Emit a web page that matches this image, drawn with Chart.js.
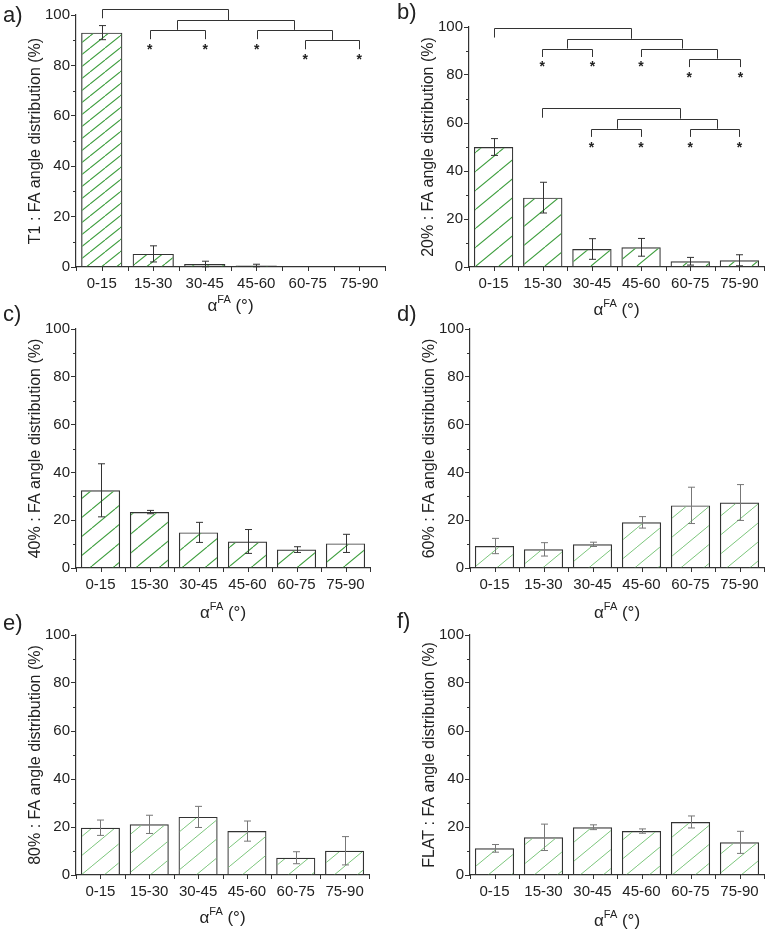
<!DOCTYPE html>
<html lang="en">
<head>
<meta charset="UTF-8">
<title>FA angle distribution</title>
<script src="https://cdn.jsdelivr.net/npm/chart.js"></script>
<style>
  body { margin: 0; background: #fff; }
  #wrap { position: relative; width: 768px; height: 930px; overflow: hidden; }
  #wrap canvas { position: absolute; }
</style>
</head>
<body>
<div id="wrap">
  <canvas id="pa"></canvas>
  <canvas id="pb"></canvas>
  <canvas id="pc"></canvas>
  <canvas id="pd"></canvas>
  <canvas id="pe"></canvas>
  <canvas id="pf"></canvas>
</div>
<script>
// ---- data ----
const categories = ["0-15", "15-30", "30-45", "45-60", "60-75", "75-90"];
const yTicks = [0, 20, 40, 60, 80, 100];
const yMinorTicks = [10, 30, 50, 70, 90];

const t1Values   = [93.0, 5.2, 1.2, 0.6, 0, 0];
const t1Errors   = [2.8, 3.2, 1.1, 0.5, 0, 0];
const p20Values  = [50.0, 28.9, 7.5, 8.2, 2.4, 2.8];
const p20Errors  = [3.5, 6.4, 4.3, 3.7, 1.6, 2.3];
const p40Values  = [32.5, 23.4, 14.9, 11.1, 7.7, 10.3];
const p40Errors  = [11.1, 0.7, 4.2, 5.0, 1.2, 3.8];
const p60Values  = [9.2, 7.8, 9.9, 19.1, 26.2, 27.4];
const p60Errors  = [3.2, 2.8, 0.9, 2.4, 7.6, 7.5];
const p80Values  = [19.7, 21.1, 24.2, 18.3, 7.2, 10.1];
const p80Errors  = [3.2, 3.8, 4.4, 4.2, 2.5, 5.9];
const flatValues = [11.1, 15.7, 19.9, 18.3, 22.1, 13.6];
const flatErrors = [1.6, 5.5, 1.0, 0.9, 2.5, 4.6];

// significance brackets: [fromCategory, toCategory, level, leftEnd, rightEnd] (category index, %)
const t1Brackets = [
  [0, 2.46, 102.2, 98.7, 98.0],
  [1.47, 3.74, 98.0, 94.1, 94.1],
  [0.93, 2.01, 94.1, 90.4, 90.4],
  [3.01, 4.48, 94.1, 90.4, 90.1],
  [3.95, 5.0, 90.1, 86.4, 86.4]
];
const t1Stars = [[0.93, 87.8], [2.01, 87.8], [3.01, 87.8], [3.95, 83.9], [5.0, 83.9]];

const p20Brackets = [
  [0, 2.8, 99.7, 95.6, 95.1],
  [1.49, 3.83, 95.1, 91.0, 91.0],
  [0.99, 2.01, 91.0, 87.5, 87.5],
  [3.0, 4.54, 91.0, 87.5, 86.8],
  [3.98, 5.02, 86.8, 83.3, 83.3],
  [0.99, 3.79, 66.2, 62.2, 61.8],
  [2.5, 4.54, 61.8, 57.6, 57.6],
  [1.99, 3.0, 57.6, 54.2, 54.2],
  [4.0, 5.0, 57.6, 54.2, 54.2]
];
const p20Stars = [[0.99, 85], [2.01, 85], [3.0, 85], [3.98, 80.6], [5.02, 80.6],
                  [1.99, 51.4], [3.0, 51.4], [4.0, 51.4], [5.0, 51.4]];

// ---- panels ----
const FONT = "'Liberation Sans', Arial, sans-serif";
Chart.defaults.font.family = FONT;
Chart.defaults.color = "#222";

const panels = [
  { id: "pa", x: 0,   y: 0,   w: 392, h: 325, left: 76, top: 15, right: 7,  bottom: 58, xGap: 39,
    letter: "a)", letterPos: [3, 16], yTitle: "T1 : FA angle distribution (%)",
    values: t1Values, errors: t1Errors, brackets: t1Brackets, stars: t1Stars,
    hatch: [15, 12, "#3f9f3f", 1.1], errColor: "#333" },
  { id: "pb", x: 384, y: 0,   w: 384, h: 325, left: 85, top: 27, right: 4,  bottom: 58, xGap: 43,
    letter: "b)", letterPos: [13, 13], yTitle: "20% : FA angle distribution (%)",
    values: p20Values, errors: p20Errors, brackets: p20Brackets, stars: p20Stars,
    hatch: [23, 19, "#3f9f3f", 1.1], errColor: "#333" },
  { id: "pc", x: 0,   y: 300, w: 392, h: 325, left: 76, top: 29, right: 22, bottom: 57, xGap: 45,
    letter: "c)", letterPos: [3, 15], yTitle: "40% : FA angle distribution (%)",
    values: p40Values, errors: p40Errors, brackets: [], stars: [],
    hatch: [23, 19, "#3f9f3f", 1.1], errColor: "#333" },
  { id: "pd", x: 384, y: 300, w: 384, h: 325, left: 86, top: 29, right: 4,  bottom: 57, xGap: 45,
    letter: "d)", letterPos: [13, 15], yTitle: "60% : FA angle distribution (%)",
    values: p60Values, errors: p60Errors, brackets: [], stars: [],
    hatch: [23, 19, "#7cc67c", 1], errColor: "#777" },
  { id: "pe", x: 0,   y: 600, w: 392, h: 330, left: 76, top: 35, right: 23, bottom: 55, xGap: 43,
    letter: "e)", letterPos: [3, 24], yTitle: "80% : FA angle distribution (%)",
    values: p80Values, errors: p80Errors, brackets: [], stars: [],
    hatch: [23, 19, "#7cc67c", 1], errColor: "#777" },
  { id: "pf", x: 384, y: 600, w: 384, h: 330, left: 86, top: 35, right: 4,  bottom: 55, xGap: 46,
    letter: "f)", letterPos: [13, 22], yTitle: "FLAT : FA angle distribution (%)",
    values: flatValues, errors: flatErrors, brackets: [], stars: [],
    hatch: [23, 19, "#7cc67c", 1], errColor: "#777" }
];

function makeHatch(ctx, w, h, color, lw) {
  const c = document.createElement("canvas");
  c.width = w; c.height = h;
  const g = c.getContext("2d");
  g.strokeStyle = color;
  g.lineWidth = lw;
  g.beginPath();
  for (const dx of [-w, 0, w]) { g.moveTo(dx, h); g.lineTo(dx + w, 0); }
  g.stroke();
  return ctx.createPattern(c, "repeat");
}

// error bars, minor ticks, brackets and texts
const decor = {
  id: "decor",
  afterDraw(chart) {
    const p = chart.options.plugins.decor;
    const ctx = chart.ctx, xs = chart.scales.x, ys = chart.scales.y, a = chart.chartArea;
    ctx.save();
    ctx.strokeStyle = "#333";
    ctx.lineWidth = 1;
    ctx.beginPath();
    yMinorTicks.forEach(v => {
      const y = Math.round(ys.getPixelForValue(v)) + 0.5;
      ctx.moveTo(a.left - 3, y); ctx.lineTo(a.left, y);
    });
    for (let i = 0; i <= categories.length * 2; i++) {
      const x = Math.round(xs.getPixelForValue(i / 2 - 0.5)) + 0.5;
      ctx.moveTo(x, a.bottom); ctx.lineTo(x, a.bottom + 4);
    }
    ctx.stroke();

    // error bars
    ctx.strokeStyle = p.errColor;
    ctx.beginPath();
    p.values.forEach((v, i) => {
      const e = p.errors[i];
      if (!e) return;
      const x = Math.round(xs.getPixelForValue(i)) + 0.5;
      const t = ys.getPixelForValue(v + e), b = ys.getPixelForValue(v - e);
      ctx.moveTo(x, t); ctx.lineTo(x, b);
      ctx.moveTo(x - 3.5, t); ctx.lineTo(x + 3.5, t);
      ctx.moveTo(x - 3.5, b); ctx.lineTo(x + 3.5, b);
    });
    ctx.stroke();

    // brackets
    ctx.strokeStyle = "#333";
    ctx.beginPath();
    p.brackets.forEach(([x1, x2, lvl, e1, e2]) => {
      const px1 = Math.round(xs.getPixelForValue(x1)) + 0.5;
      const px2 = Math.round(xs.getPixelForValue(x2)) + 0.5;
      const py = Math.round(ys.getPixelForValue(lvl)) + 0.5;
      ctx.moveTo(px1, ys.getPixelForValue(e1));
      ctx.lineTo(px1, py);
      ctx.lineTo(px2, py);
      ctx.lineTo(px2, ys.getPixelForValue(e2));
    });
    ctx.stroke();
    ctx.fillStyle = "#222";
    ctx.font = "bold 14px " + FONT;
    ctx.textAlign = "center";
    ctx.textBaseline = "alphabetic";
    p.stars.forEach(([sx, sy]) => {
      ctx.fillText("*", xs.getPixelForValue(sx), ys.getPixelForValue(sy) + 8);
    });

    // panel letter
    ctx.font = "22px " + FONT;
    ctx.textAlign = "left";
    ctx.textBaseline = "middle";
    ctx.fillText(p.letter, p.letterPos[0], p.letterPos[1]);

    // y title
    ctx.font = "16px " + FONT;
    ctx.save();
    ctx.translate(a.left - 40, (a.top + a.bottom) / 2);
    ctx.rotate(-Math.PI / 2);
    ctx.textAlign = "center";
    ctx.fillText(p.yTitle, 0, 0);
    ctx.restore();

    // x title: alpha^FA (°)
    const big = "17px " + FONT, small = "11px " + FONT;
    ctx.font = big; const wA = ctx.measureText("\u03b1").width;
    const wP = ctx.measureText(" (\u00b0)").width;
    ctx.font = small; const wS = ctx.measureText("FA").width;
    let x = (a.left + a.right) / 2 - (wA + wS + wP) / 2;
    const y = a.bottom + p.xGap;
    ctx.textAlign = "left";
    ctx.font = big; ctx.fillText("\u03b1", x, y); x += wA;
    ctx.font = small; ctx.fillText("FA", x, y - 6); x += wS;
    ctx.font = big; ctx.fillText(" (\u00b0)", x, y);
    ctx.restore();
  }
};

panels.forEach(p => {
  const cv = document.getElementById(p.id);
  cv.width = p.w; cv.height = p.h;
  cv.style.left = p.x + "px"; cv.style.top = p.y + "px";
  const ctx = cv.getContext("2d");
  const pattern = makeHatch(ctx, ...p.hatch);
  new Chart(ctx, {
    type: "bar",
    data: {
      labels: categories,
      datasets: [{
        data: p.values,
        backgroundColor: pattern,
        borderColor: "#333",
        borderWidth: 1.2,
        barPercentage: 0.8,
        categoryPercentage: 1
      }]
    },
    options: {
      responsive: false,
      animation: false,
      layout: { padding: { left: 0, top: p.top, right: p.right, bottom: 0 } },
      plugins: {
        legend: { display: false },
        tooltip: { enabled: false },
        decor: p
      },
      scales: {
        x: {
          grid: { drawOnChartArea: false, color: "rgba(0,0,0,0)", tickLength: 4 },
          border: { color: "#333", width: 1.2 },
          ticks: { font: { size: 15 }, padding: 4, maxRotation: 0, autoSkip: false },
          afterFit: s => { s.height = p.bottom; }
        },
        y: {
          min: 0, max: 100,
          afterBuildTicks: s => { s.ticks = yTicks.map(v => ({ value: v })); },
          grid: { drawOnChartArea: false, color: "#333", tickLength: 5 },
          border: { color: "#333", width: 1.2 },
          ticks: { font: { size: 15 }, padding: 1 },
          afterFit: s => { s.width = p.left; }
        }
      }
    },
    plugins: [decor]
  });
});
</script>
</body>
</html>
